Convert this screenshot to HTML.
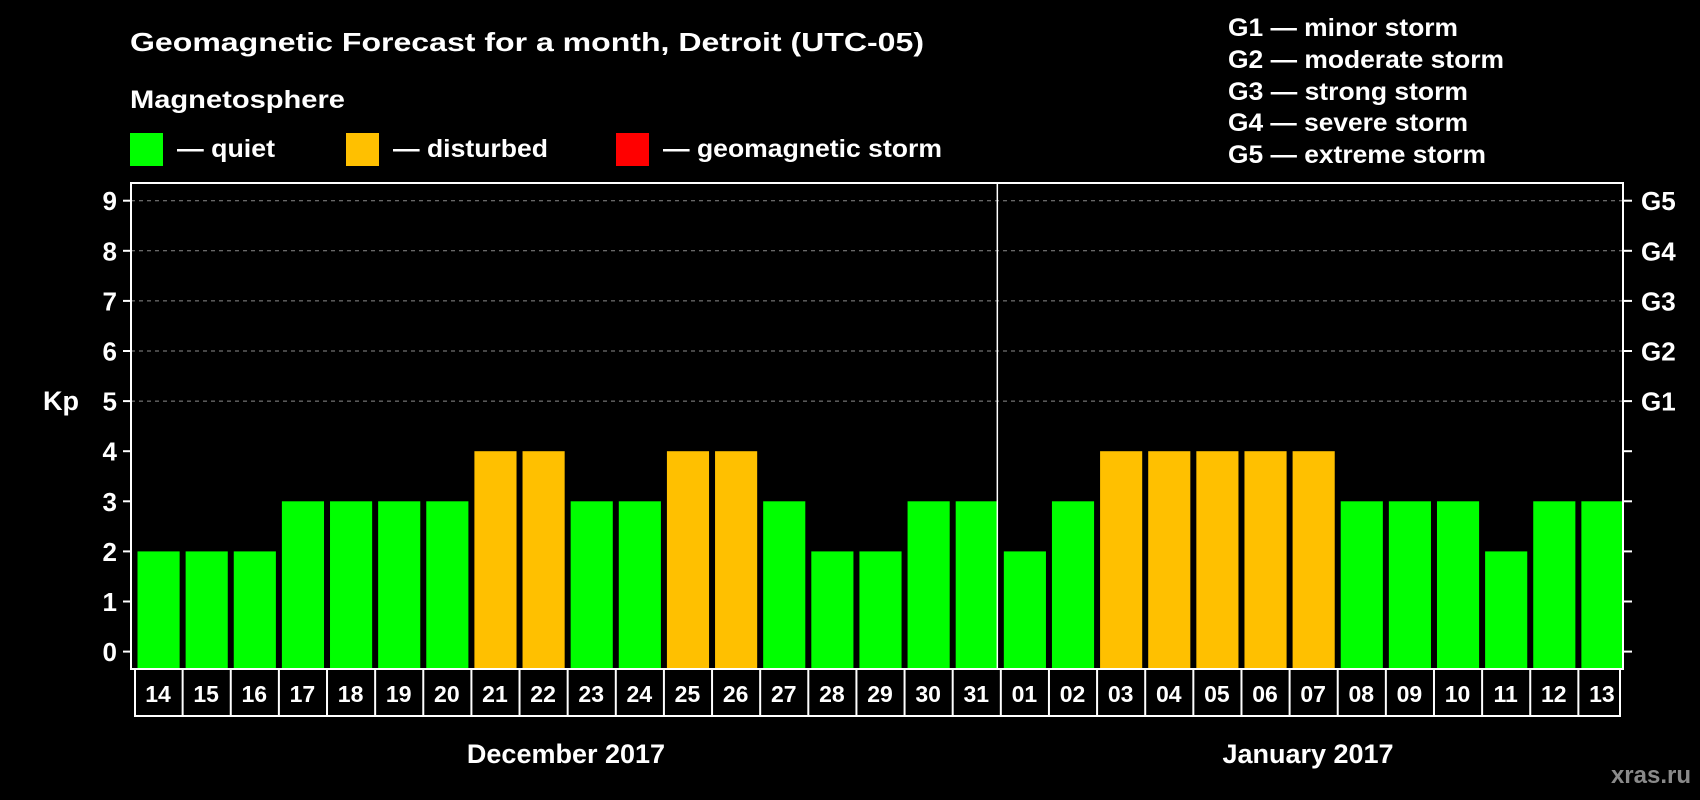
<!DOCTYPE html>
<html><head><meta charset="utf-8"><style>
html,body{margin:0;padding:0;background:#000;}
svg{display:block;font-family:"Liberation Sans",Arial,sans-serif;font-weight:bold;}
</style></head><body>
<svg id="chart" width="1700" height="800" viewBox="0 0 1700 800" xmlns="http://www.w3.org/2000/svg">
<rect x="0" y="0" width="1700" height="800" fill="#000"/>
<text x="130" y="51" fill="#fff" font-size="26" textLength="794" lengthAdjust="spacingAndGlyphs">Geomagnetic Forecast for a month, Detroit (UTC-05)</text>
<text x="130" y="108" fill="#fff" font-size="25" textLength="215" lengthAdjust="spacingAndGlyphs">Magnetosphere</text>
<g>
<rect x="130" y="133" width="33" height="33" fill="#00ff00"/>
<text x="177" y="157" fill="#fff" font-size="25" textLength="98" lengthAdjust="spacingAndGlyphs">— quiet</text></g>
<g>
<rect x="346" y="133" width="33" height="33" fill="#ffc000"/>
<text x="393" y="157" fill="#fff" font-size="25" textLength="155" lengthAdjust="spacingAndGlyphs">— disturbed</text></g>
<g>
<rect x="616" y="133" width="33" height="33" fill="#ff0000"/>
<text x="663" y="157" fill="#fff" font-size="25" textLength="279" lengthAdjust="spacingAndGlyphs">— geomagnetic storm</text></g>
<g fill="#fff" font-size="25">
<text x="1228" y="36" textLength="230" lengthAdjust="spacingAndGlyphs">G1 — minor storm</text>
<text x="1228" y="68" textLength="276" lengthAdjust="spacingAndGlyphs">G2 — moderate storm</text>
<text x="1228" y="100" textLength="240" lengthAdjust="spacingAndGlyphs">G3 — strong storm</text>
<text x="1228" y="131" textLength="240" lengthAdjust="spacingAndGlyphs">G4 — severe storm</text>
<text x="1228" y="163" textLength="258" lengthAdjust="spacingAndGlyphs">G5 — extreme storm</text>
</g>
<text x="43" y="410" fill="#fff" font-size="27">Kp</text>
<g id="plot"></g>
<text x="566" y="763" fill="#fff" font-size="27" text-anchor="middle">December 2017</text>
<text x="1308" y="763" fill="#fff" font-size="27" text-anchor="middle">January 2017</text>
<text x="1691" y="783" fill="#8a8a8a" font-size="24" text-anchor="end">xras.ru</text>
</svg>
<script>
const days = ["14","15","16","17","18","19","20","21","22","23","24","25","26","27","28","29","30","31","01","02","03","04","05","06","07","08","09","10","11","12","13"];
const kpValues = [2,2,2,3,3,3,3,4,4,3,3,4,4,3,2,2,3,3,2,3,4,4,4,4,4,3,3,3,2,3,3];
const yTicks = [0,1,2,3,4,5,6,7,8,9];
const gLabels = ["G1","G2","G3","G4","G5"];
const gLevels = [5,6,7,8,9];
const monthBreakIndex = 18;

const NS = "http://www.w3.org/2000/svg";
const L = 131, R = 1623, T = 183, B = 669;
const y0 = 651.6, yPerUnit = 50.1;
const step = (R - L) / days.length;
function y(v){ return y0 - v * yPerUnit; }
function x(i){ return L + i * step; }
const g = document.getElementById('plot');
function mk(tag, attrs){ const e = document.createElementNS(NS, tag); for (const k in attrs) e.setAttribute(k, attrs[k]); g.appendChild(e); return e; }

// grid lines
gLevels.forEach(v => {
  const ln = mk('line', {x1: L, x2: R, y1: y(v), y2: y(v), stroke: '#8c8c8c', 'stroke-width': 1, 'stroke-dasharray': '4,4'});
  
  
});
// bars
kpValues.forEach((v, i) => {
  const col = v >= 5 ? '#ff0000' : (v >= 4 ? '#ffc000' : '#00ff00');
  const r = mk('rect', {x: x(i) + 6.5, y: y(v), width: step - 6, height: B - 1 - y(v), fill: col});
  
  
});
// frame
const fr = mk('rect', {x: L, y: T, width: R - L, height: B - T, fill: 'none', stroke: '#fff', 'stroke-width': 2});


const dv = mk('line', {x1: x(monthBreakIndex), x2: x(monthBreakIndex), y1: T, y2: B, stroke: '#fff', 'stroke-width': 1.5});


// y ticks
yTicks.forEach(v => {
  const t1 = mk('line', {x1: L - 8, x2: L, y1: y(v), y2: y(v), stroke: '#fff', 'stroke-width': 2});
  
  
  const t2 = mk('line', {x1: R, x2: R + 9, y1: y(v), y2: y(v), stroke: '#fff', 'stroke-width': 2});
  
  
  const tx = mk('text', {x: 117, y: y(v) + 9.5, fill: '#fff', 'font-size': 26, 'text-anchor': 'end'});
  tx.textContent = String(v);
  
  
});
gLabels.forEach((lab, i) => {
  const tx = mk('text', {x: 1641, y: y(gLevels[i]) + 9.5, fill: '#fff', 'font-size': 26});
  tx.textContent = lab;
  
  
});
// date cells
const cT = B, cB = 716, cL = L + 4;
const cb = mk('path', {d: 'M' + cL + ' ' + cT + ' V' + cB + ' H' + (R - 3) + ' V' + cT, fill: 'none', stroke: '#fff', 'stroke-width': 2});


days.forEach((d, i) => {
  if (i > 0) {
    const ln = mk('line', {x1: x(i) + 3.5, x2: x(i) + 3.5, y1: cT, y2: cB, stroke: '#fff', 'stroke-width': 2});
    
    
  }
  const tx = mk('text', {x: x(i) + step / 2 + 3, y: 702, fill: '#fff', 'font-size': 23, 'text-anchor': 'middle'});
  tx.textContent = d;
  
  
});
</script>
</body></html>
